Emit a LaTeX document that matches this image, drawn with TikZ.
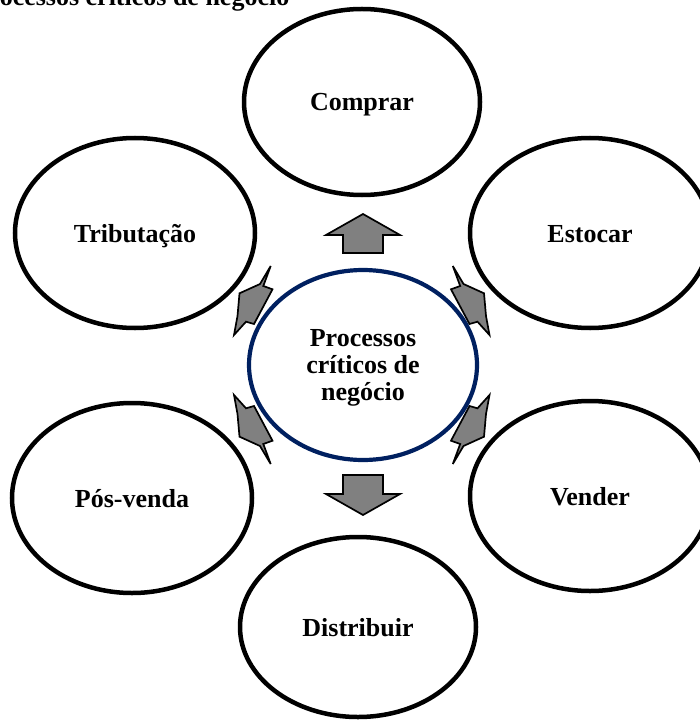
\documentclass[tikz,border=0pt]{standalone}
\usepackage{fontspec}
\setmainfont{Liberation Serif}
\usetikzlibrary{shapes.geometric}
\definecolor{ringblue}{RGB}{0,32,96}
\definecolor{arrowgray}{RGB}{128,128,128}
\begin{document}
\begin{tikzpicture}[x=1pt,y=-1pt,
  bigfont/.style={font=\fontsize{26}{27}\selectfont\bfseries},
  proc/.style={ellipse, draw=black, line width=4.5pt, fill=white, inner sep=0pt,
    bigfont, text height=18pt, text depth=0pt},
  hub/.style={ellipse, draw=ringblue, line width=4.2pt, fill=white, inner sep=0pt},
  hubtext/.style={align=center, inner sep=0pt, bigfont},
  blockarrow/.style={fill=arrowgray, draw=black, line width=1.7pt, line join=miter}]
\useasboundingbox (0,0) rectangle (700,722);
\clip (0,0) rectangle (700,722);

% heading (partly outside the page)
\node[anchor=base west, inner sep=0pt, bigfont] (title) at (-27.4,6) {Processos críticos de negócio};

% surrounding processes
\node[proc, minimum width=236pt, minimum height=186pt] (comprar) at (362,102) {Comprar};
\node[proc, minimum width=240pt, minimum height=190pt] (tributacao) at (135,233) {Tributação};
\node[proc, minimum width=240pt, minimum height=190pt] (estocar) at (590,233) {Estocar};
\node[proc, minimum width=240pt, minimum height=190pt] (posvenda) at (132,498) {Pós-venda};
\node[proc, minimum width=240pt, minimum height=190pt] (vender) at (590,496) {Vender};
\node[proc, minimum width=236pt, minimum height=180pt] (distribuir) at (358,627) {Distribuir};

% central hub
\node[hub, minimum width=228pt, minimum height=190pt] (hub) at (363,365) {};
\node[hubtext] (hublabel) at ([yshift=-3pt]hub.center) {Processos\\críticos de\\negócio};

% vertical block arrows
\draw[blockarrow] (363,214) -- (400,235) -- (383,235) -- (383,253) -- (343,253)
  -- (343,235) -- (326,235) -- cycle;
\draw[blockarrow] (363,515) -- (400,494) -- (383,494) -- (383,475) -- (343,475)
  -- (343,494) -- (326,494) -- cycle;

% diagonal block arrows (one outline, mirrored)
\newcommand\sidearrowpath{(270.7,266) -- (263.3,286) -- (272.5,289.3) -- (254,324)
  -- (246,321.7) -- (234,335) -- (237.5,316) -- (239.5,293.3) -- (260,284) -- cycle}
\draw[blockarrow] \sidearrowpath;
\begin{scope}[shift={(361.75,0)}, xscale=-1, shift={(-361.75,0)}]
  \draw[blockarrow] \sidearrowpath;
\end{scope}
\begin{scope}[shift={(0,365)}, yscale=-1, shift={(0,-365)}]
  \draw[blockarrow] \sidearrowpath;
\end{scope}
\begin{scope}[shift={(361.75,365)}, xscale=-1, yscale=-1, shift={(-361.75,-365)}]
  \draw[blockarrow] \sidearrowpath;
\end{scope}
\end{tikzpicture}
\end{document}
